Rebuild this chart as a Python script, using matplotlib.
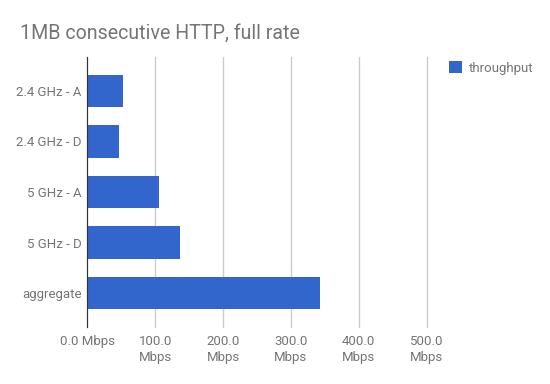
import matplotlib
matplotlib.use('Agg')
import matplotlib.pyplot as plt
import numpy as np

# data
categories = ['2.4 GHz - A', '2.4 GHz - D', '5 GHz - A', '5 GHz - D', 'aggregate']
throughput = [53, 47, 105, 137, 343]
x_ticks = [0, 100, 200, 300, 400, 500]
x_labels = ['0.0 Mbps', '100.0\nMbps', '200.0\nMbps', '300.0\nMbps', '400.0\nMbps', '500.0\nMbps']

plt.rcParams['font.family'] = ['Roboto', 'DejaVu Sans']
text_color = '#757575'
bar_color = '#3366cc'

fig = plt.figure(figsize=(5.5, 3.84), dpi=100)
ax = fig.add_axes([87.3 / 550, 0.1484, 339.4 / 550, 0.7032])

y = np.arange(len(categories))
ax.barh(y, throughput, height=0.645, color=bar_color, label='throughput', zorder=3)

ax.set_ylim(len(categories) - 0.33, -0.67)
ax.set_xlim(0, 500)
ax.set_yticks(y)
ax.set_yticklabels(categories)
ax.set_xticks(x_ticks)
ax.set_xticklabels(x_labels, linespacing=1.25, multialignment='center')

ax.tick_params(axis='both', length=0, colors=text_color, labelsize=9.5)
ax.tick_params(axis='y', pad=4)
ax.tick_params(axis='x', pad=6)

for s in ['top', 'right', 'bottom']:
    ax.spines[s].set_visible(False)
ax.spines['left'].set_color('#333333')
ax.spines['left'].set_zorder(4)
ax.grid(axis='x', color='#cccccc', linewidth=1, zorder=0)
for gl in ax.get_xgridlines():
    gl.set_clip_on(False)
ax.set_axisbelow(True)

fig.text(20 / 550, 1 - 33 / 384, '1MB consecutive HTTP, full rate',
         fontsize=14.1, color=text_color, va='center', ha='left')

leg = ax.legend(loc='upper left', bbox_to_anchor=(444 / 550, 1 - 56 / 384),
                bbox_transform=fig.transFigure, frameon=False, fontsize=9.5,
                handlelength=1.0, handleheight=1.0, handletextpad=0.5,
                borderaxespad=0)
for t in leg.get_texts():
    t.set_color(text_color)

fig.savefig('out.png', dpi=100)
